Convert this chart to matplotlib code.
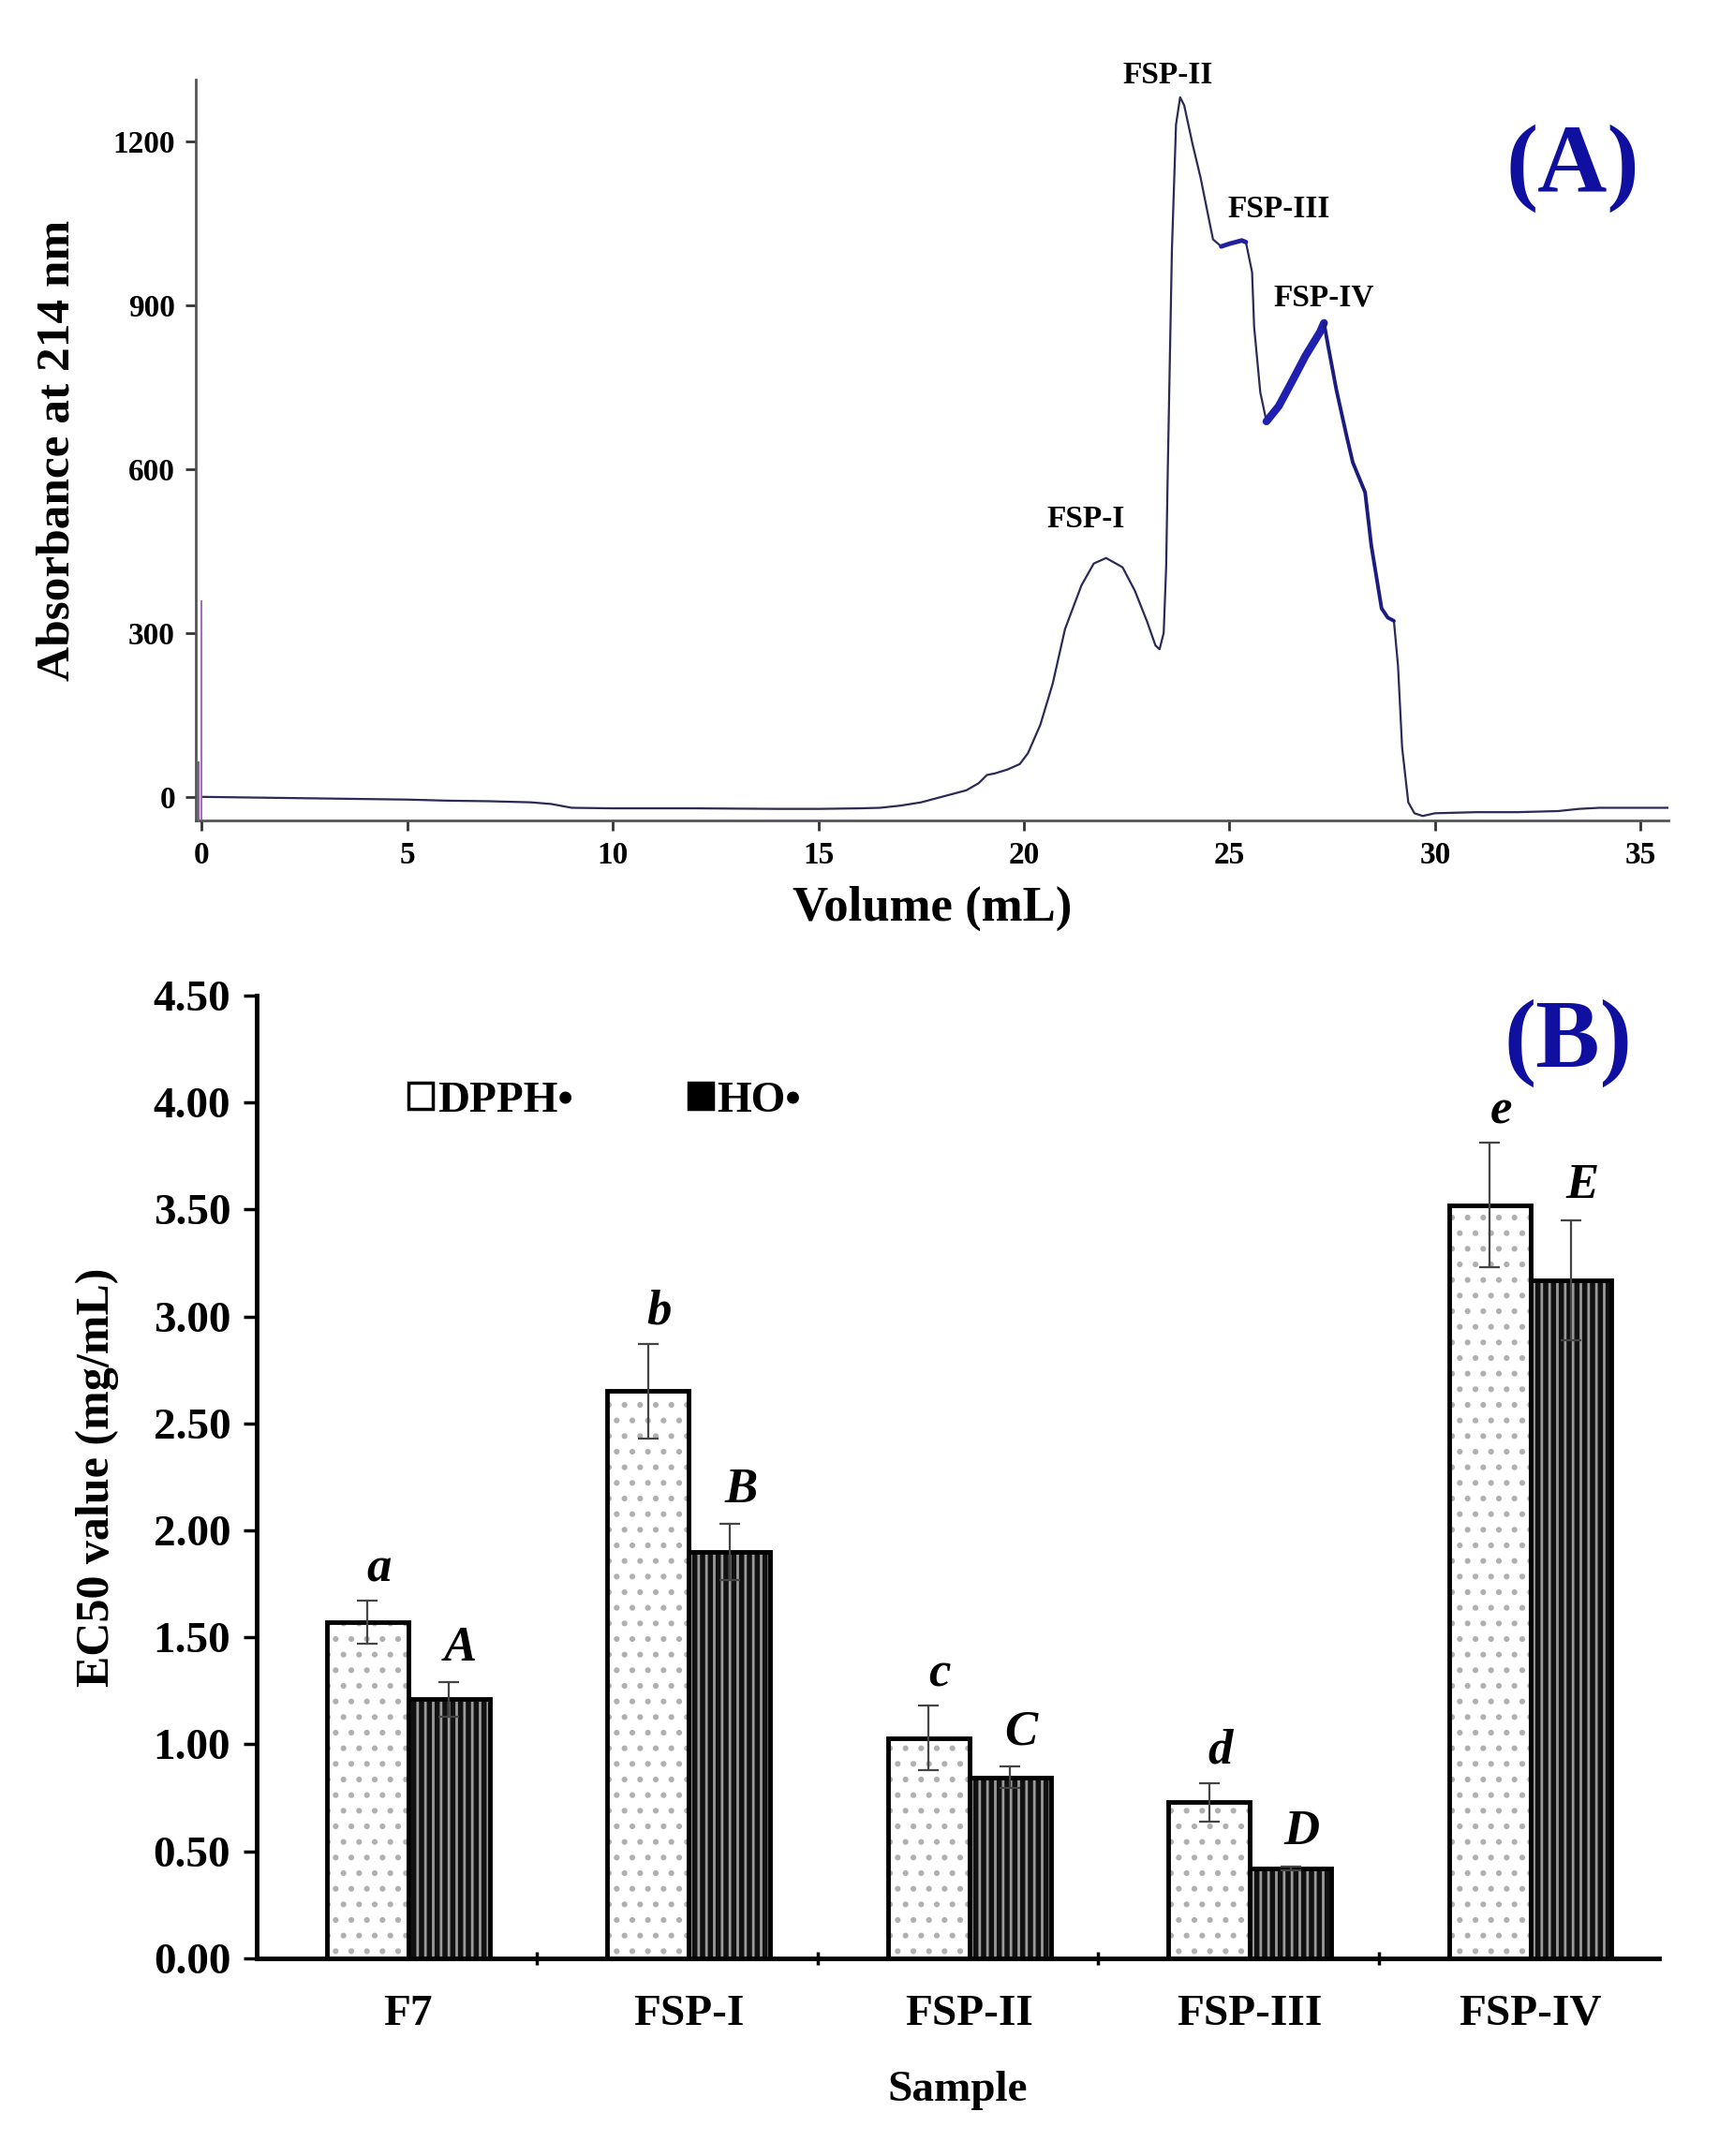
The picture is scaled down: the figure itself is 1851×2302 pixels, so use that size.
import numpy as np
import matplotlib.pyplot as plt
from matplotlib.patches import Patch

plt.rcParams['font.family'] = ['Liberation Serif', 'DejaVu Serif']
plt.rcParams['font.weight'] = 'bold'
plt.rcParams['hatch.linewidth'] = 2.0

# ---- panel A: chromatogram ----
volume = [0, 2, 4, 5, 6, 7, 8, 8.5, 9, 10, 12, 14, 15, 16, 16.5, 17, 17.5, 18,
          18.3, 18.6, 18.9, 19.1, 19.3, 19.6, 19.9, 20.1, 20.4, 20.7, 21.0, 21.4,
          21.7, 22.0, 22.4, 22.7, 23.0, 23.2, 23.3, 23.4, 23.46, 23.5, 23.6, 23.7,
          23.8, 23.9, 24.1, 24.3, 24.5, 24.6, 24.8, 25.0, 25.3, 25.4, 25.55, 25.6,
          25.75, 25.9, 26.2, 26.5, 26.85, 27.2, 27.3, 27.4, 27.6, 27.85, 28.0, 28.3,
          28.45, 28.7, 28.85, 29.0, 29.1, 29.2, 29.35, 29.5, 29.7, 30.0, 31, 32, 33,
          33.5, 34, 35, 35.7]
absorb = [0, -2, -4, -5, -7, -8, -10, -13, -20, -21, -21, -22, -22, -21, -20, -16,
          -10, 0, 6, 12, 25, 40, 43, 50, 60, 80, 132, 207, 307, 387,
          427, 437, 420, 377, 320, 277, 270, 300, 420, 600, 1000, 1230,
          1280, 1265, 1195, 1132, 1057, 1020, 1007, 1012, 1018, 1015, 960, 860,
          740, 687, 715, 757, 807, 850, 867, 825, 745, 660, 612, 557,
          460, 345, 328, 322, 240, 90, -10, -30, -35, -30, -28, -28, -26,
          -22, -20, -20, -20]

peak_names = ['FSP-I', 'FSP-II', 'FSP-III', 'FSP-IV']
peak_x = [21.5, 23.5, 26.2, 27.3]
peak_y = [507, 1320, 1075, 913]

# ---- panel B: EC50 bars ----
samples = ['F7', 'FSP-I', 'FSP-II', 'FSP-III', 'FSP-IV']
dpph = [1.57, 2.65, 1.03, 0.73, 3.52]
dpph_err = [0.10, 0.22, 0.15, 0.09, 0.29]
ho = [1.21, 1.90, 0.845, 0.42, 3.17]
ho_err = [0.08, 0.13, 0.05, 0.01, 0.28]
dpph_letters = ['a', 'b', 'c', 'd', 'e']
ho_letters = ['A', 'B', 'C', 'D', 'E']

fig = plt.figure(figsize=(18.51, 23.02), dpi=100)

# ================= (A) =================
ax1 = fig.add_axes([0.113, 0.6195, 0.849, 0.3435])
v = np.array(volume)
a = np.array(absorb)
ax1.plot(v, a, color='#2a2a55', lw=1.6)
m = (v >= 24.7) & (v <= 25.5)
ax1.plot(v[m], a[m], color='#2020a0', lw=3.5, solid_capstyle='round')
m = (v >= 25.9) & (v <= 27.3)
ax1.plot(v[m], a[m], color='#1f1fb0', lw=6, solid_capstyle='round')
m = (v >= 27.3) & (v <= 29.0)
ax1.plot(v[m], a[m], color='#1c1c80', lw=2.8, solid_capstyle='round')
# injection spike
ax1.vlines(0.0, -42, 360, color='#a070b0', lw=1.5)
ax1.vlines(-0.08, -42, 65, color='#8060a0', lw=1.5)

ax1.set_xlim(-0.14, 35.67)
ax1.set_ylim(-43, 1312)
ax1.set_xticks([0, 5, 10, 15, 20, 25, 30, 35])
ax1.set_yticks([0, 300, 600, 900, 1200])
for s in ['top', 'right']:
    ax1.spines[s].set_visible(False)
for s in ['left', 'bottom']:
    ax1.spines[s].set_color('#555555')
    ax1.spines[s].set_linewidth(2)
ax1.tick_params(axis='both', labelsize=24, width=2, length=8, color='#333333', pad=8)
ax1.set_xlabel('Volume (mL)', fontsize=38, fontweight='bold', labelpad=12)
ax1.set_ylabel('Absorbance at 214 nm', fontsize=37, fontweight='bold', labelpad=26)
for name, px, py in zip(peak_names, peak_x, peak_y):
    ax1.text(px, py, name, fontsize=24, fontweight='bold', ha='center', va='center',
             clip_on=False)
ax1.text(0.935, 0.88, '(A)', transform=ax1.transAxes, fontsize=74, fontweight='bold',
         color='#1010a0', ha='center', va='center')

# ================= (B) =================
ax2 = fig.add_axes([0.148, 0.0917, 0.809, 0.4466])
x = np.arange(len(samples))
w = 0.29
off = 0.04
ax2.bar(x - w / 2 + off, dpph, w, color='white', edgecolor='#b0b0b0', hatch='.', lw=0)
ax2.bar(x - w / 2 + off, dpph, w, color='none', edgecolor='black', lw=3.5)
ax2.bar(x + w / 2 + off, ho, w, color='#111111', edgecolor='#9a9a9a', hatch='||', lw=0)
ax2.bar(x + w / 2 + off, ho, w, color='none', edgecolor='black', lw=3.5)
ax2.errorbar(x - w / 2 + off, dpph, yerr=dpph_err, fmt='none', ecolor='#444444',
             elinewidth=1.6, capsize=8, capthick=1.6)
ax2.errorbar(x + w / 2 + off, ho, yerr=ho_err, fmt='none', ecolor='#444444',
             elinewidth=1.6, capsize=8, capthick=1.6)
for i in range(len(samples)):
    ax2.text(x[i] - w / 2 + off + 0.04, dpph[i] + dpph_err[i] + 0.15, dpph_letters[i],
             fontsize=38, fontweight='bold', style='italic', ha='center', va='center')
    ax2.text(x[i] + w / 2 + off + 0.04, ho[i] + ho_err[i] + 0.16, ho_letters[i],
             fontsize=38, fontweight='bold', style='italic', ha='center', va='center')

ax2.set_xlim(-0.5, 4.5)
ax2.set_ylim(0, 4.5)
ax2.set_yticks(np.arange(0, 4.51, 0.5))
ax2.set_yticklabels(['%.2f' % t for t in np.arange(0, 4.51, 0.5)])
ax2.set_xticks(x + off)
ax2.set_xticklabels(samples)
ax2.set_xticks([0.5, 1.5, 2.5, 3.5], minor=True)
ax2.tick_params(axis='x', which='major', length=0, labelsize=34, pad=28)
ax2.tick_params(axis='x', which='minor', length=10, width=2.5, direction='inout')
ax2.tick_params(axis='y', labelsize=34, length=10, width=2.5, pad=10)
for s in ['top', 'right']:
    ax2.spines[s].set_visible(False)
for s in ['left', 'bottom']:
    ax2.spines[s].set_linewidth(3.5)
ax2.set_xlabel('Sample', fontsize=34, fontweight='bold', labelpad=28)
ax2.set_ylabel('EC50 value (mg/mL)', fontsize=36, fontweight='bold', labelpad=26)
handles = [Patch(facecolor='white', edgecolor='black', lw=2.5, label='DPPH•'),
           Patch(facecolor='black', edgecolor='black', lw=2.5, label='HO•')]
ax2.legend(handles=handles, loc='center left', bbox_to_anchor=(0.08, 0.89), ncol=2,
           frameon=False, fontsize=34, handlelength=0.55, handleheight=0.55,
           handletextpad=0.1, columnspacing=2.6)
ax2.text(0.935, 0.95, '(B)', transform=ax2.transAxes, fontsize=74, fontweight='bold',
         color='#1010a0', ha='center', va='center')

fig.savefig('out.png', dpi=100)
